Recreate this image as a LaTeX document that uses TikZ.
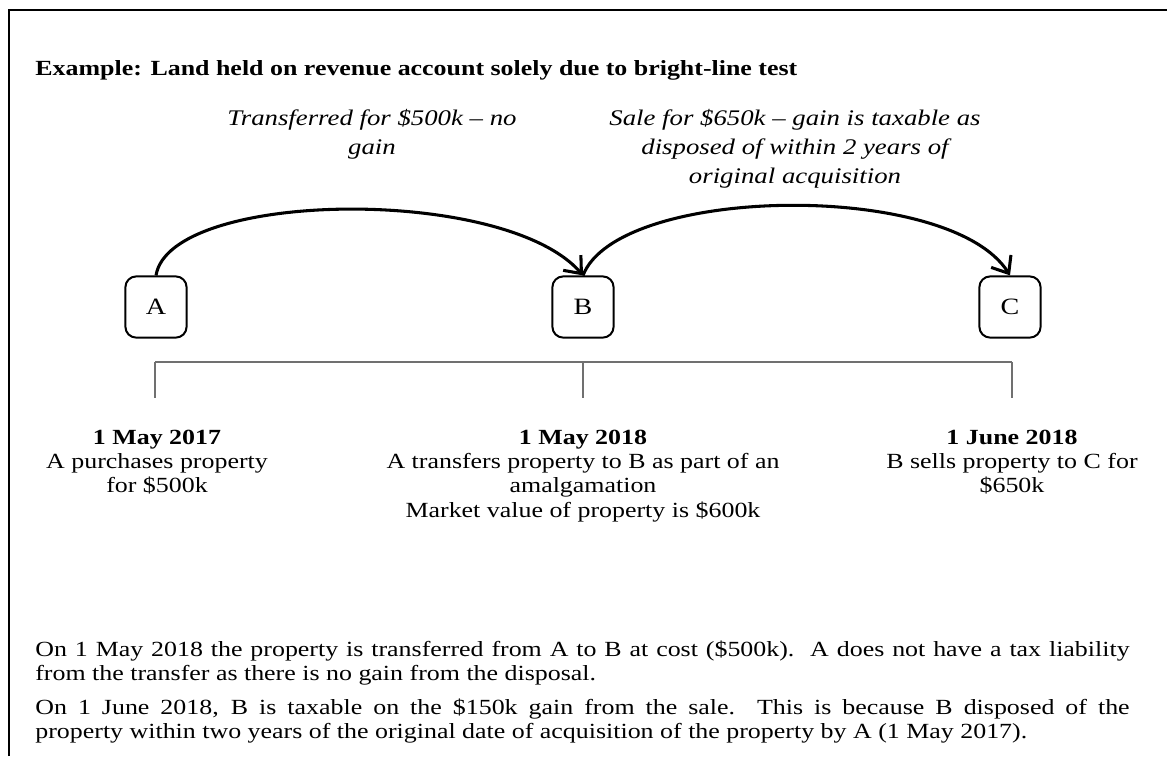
\documentclass[tikz,border=0pt]{standalone}
\usepackage{fontspec}
\setmainfont{Liberation Serif}[FakeStretch=1.2]
\usetikzlibrary{arrows.meta}
\definecolor{rulegray}{RGB}{112,112,112}
\tikzset{
  party/.style={draw, line width=1.1pt, rounded corners=6pt, minimum width=34pt, minimum height=34pt, inner sep=0pt, font=\fontsize{13}{15}\selectfont},
  label/.style={align=center, font=\itshape\fontsize{12.4}{16}\selectfont},
  datetext/.style={align=center, anchor=north, font=\fontsize{12}{13.4}\selectfont},
  bodytext/.style={anchor=north west, text width=608pt, align=justify, inner sep=0pt, font=\fontsize{12}{13.4}\selectfont},
  timeline/.style={draw=rulegray, line width=0.8pt}
}
\begin{document}
\begin{tikzpicture}[x=0.5556pt, y=-0.5556pt, >={Straight Barb[length=8pt,width=13pt]}]
    \useasboundingbox (0,0) rectangle (1167,756);
    \draw[line width=1.2pt] (9,756)--(9,10)--(1167,10);
    \node (title) at (35,70) [anchor=west, inner sep=0pt, font=\bfseries\fontsize{12}{14}\selectfont]
        {Example: Land held on revenue account solely due to bright-line test};
    % parties
    \node (A) at (156,307) [party]{A};
    \node (B) at (583,307) [party]{B};
    \node (C) at (1010,307) [party]{C};
    \node (lab1) at (372,134) [label]{Transferred for \$500k -- no\\gain};
    \node (lab2) at (795,149) [label]{Sale for \$650k -- gain is taxable as\\disposed of within 2 years of\\original acquisition};
    \draw [->, line width=1.7pt](A.north) .. controls (170,190) and (505,185) .. (B.north);
    \draw [->, line width=1.7pt](B.north) .. controls (618,185) and (950,180) .. (C.north);
    % timeline
    \draw [timeline](155,362)--(1012,362);
    \foreach \x in {155,583,1012}
        { \draw [timeline](\x,362)--(\x,398); }
    \node (d1) at (157,424) [datetext]{\textbf{1 May 2017}\\A purchases property\\for \$500k};
    \node (d2) at (583,424) [datetext]{\textbf{1 May 2018}\\A transfers property to B as part of an\\amalgamation\\Market value of property is \$600k};
    \node (d3) at (1012,424) [datetext]{\textbf{1 June 2018}\\B sells property to C for\\\$650k};
    % notes
    \node (p1) at (35,640) [bodytext]{On 1 May 2018 the property is transferred from A to B at cost (\$500k).\ \ A does not have a tax liability\linebreak from the transfer as there is no gain from the disposal.};
    \node (p2) at (35,698) [bodytext]{On 1 June 2018, B is taxable on the \$150k gain from the sale.\ \ This is because B disposed of the\linebreak property within two years of the original date of acquisition of the property by A (1 May 2017).};
\end{tikzpicture}
\end{document}
